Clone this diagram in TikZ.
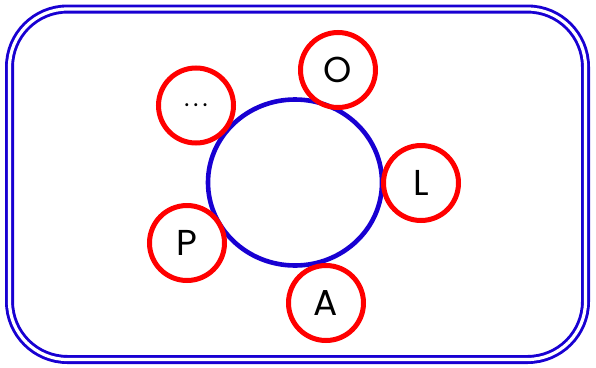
\documentclass[tikz,border=0pt]{standalone}
\usepackage{fontspec}
\setmainfont{Poppins}
\begin{document}
\begin{tikzpicture}[x=1pt,y=-1pt,
  small/.style={circle, draw=red, line width=5pt, minimum size=75pt, inner sep=0pt, font=\fontsize{36}{36}\selectfont}]
\useasboundingbox (0,0) rectangle (596,367);
\definecolor{frameblue}{RGB}{24,0,210}
\draw[frameblue, double, double distance=3.2pt, line width=2.9pt, rounded corners=58pt] (9.5,9) rectangle (585.5,359.5);
\node[draw=frameblue, line width=4.6pt, minimum width=174pt, minimum height=166pt, inner sep=0pt, shape=circle, yscale=0.954] (hub) at (295,182.5) {};
\node[small] (o) at (338,70) {O};
\node[small] (l) at (421,183) {L};
\node[small] (a) at (326,303) {A};
\node[small] (p) at (187,243) {P};
\node[small] (d) at (196,105.5) {\fontsize{24}{24}\selectfont .\hspace{4pt}.\hspace{4pt}.};
\end{tikzpicture}
\end{document}
